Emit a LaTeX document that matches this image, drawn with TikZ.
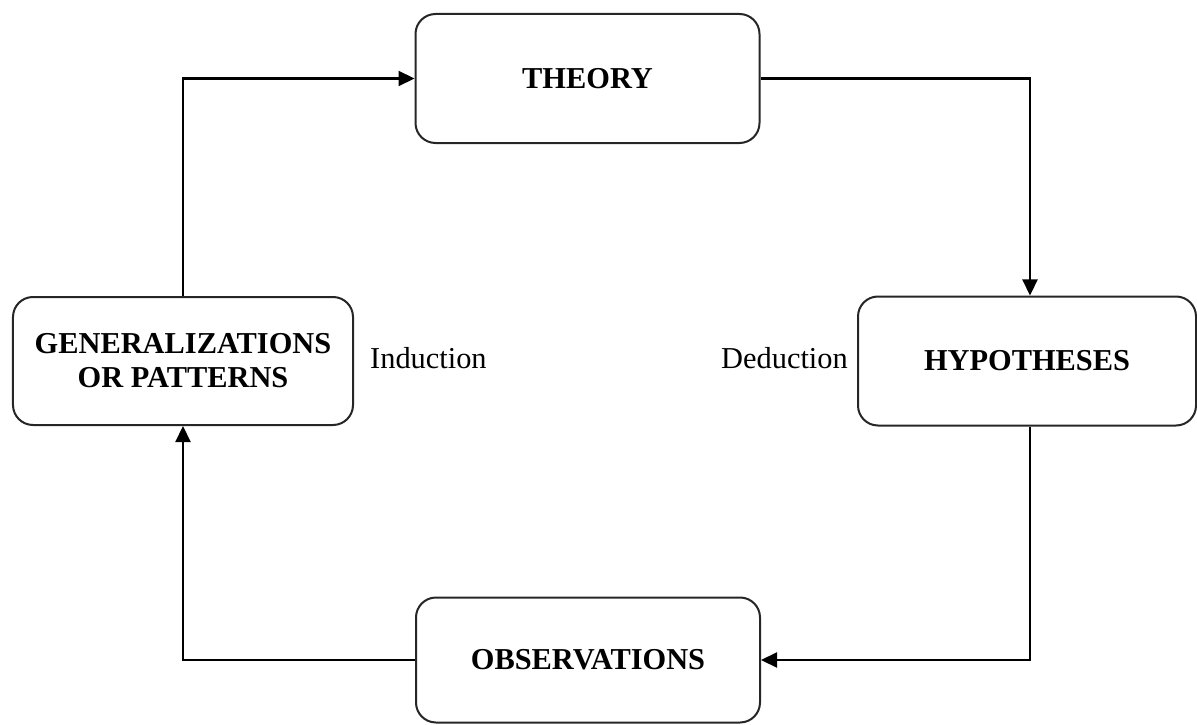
\documentclass[tikz,border=0pt]{standalone}
\usepackage{fontspec}
\setmainfont{Liberation Serif}
\usetikzlibrary{arrows.meta}
\begin{document}
\begin{tikzpicture}[x=1bp,y=-1bp,
  stage/.style={draw=black!85, line width=2bp, rounded corners=20bp, fill=white,
    align=center, inner sep=0pt, font=\fontsize{30.5}{34}\selectfont\bfseries},
  flow/.style={draw=black, line width=2.2bp, -{Triangle[length=16bp,width=15bp]}},
  tag/.style={inner sep=0pt, font=\fontsize{30.5}{34}\selectfont}]
\useasboundingbox (0,0) rectangle (1197,725);
\node[stage, minimum width=344bp, minimum height=129bp] (theory) at (587.5,78.5) {THEORY};
\node[stage, minimum width=338bp, minimum height=129bp] (hyp) at (1027,361) {HYPOTHESES};
\node[stage, minimum width=340bp, minimum height=128bp] (gen) at (183,361) {GENERALIZATIONS\\OR PATTERNS};
\node[stage, minimum width=344bp, minimum height=125bp] (obs) at (588,660) {OBSERVATIONS};
\node[tag, anchor=west] (ind) at (370,358) {Induction};
\node[tag, anchor=east] (ded) at (848,358) {Deduction};
\draw[flow] (gen.north) |- (theory.west);
\draw[flow] (theory.east) -| ([xshift=3bp]hyp.north);
\draw[flow] ([xshift=3bp]hyp.south) |- (obs.east);
\draw[flow] (obs.west) -| (gen.south);
\end{tikzpicture}
\end{document}
